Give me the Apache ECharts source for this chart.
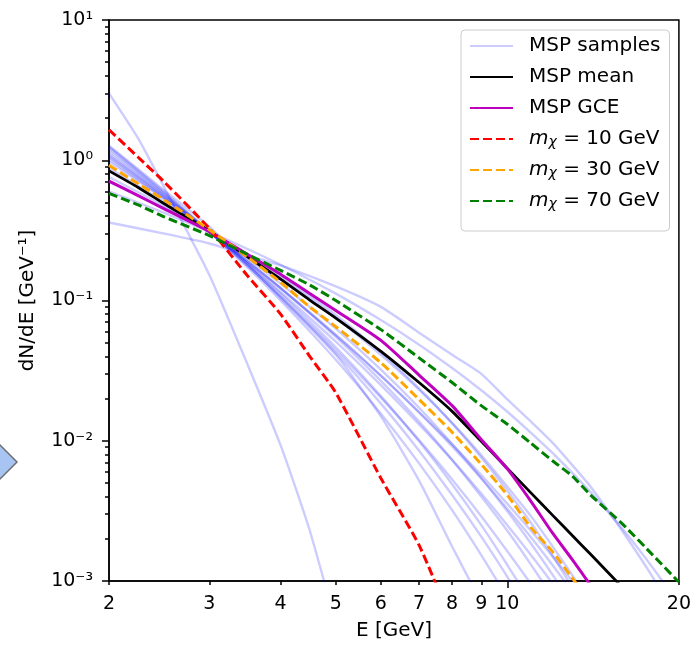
<!DOCTYPE html>
<html>
<head>
<meta charset="utf-8">
<script src="https://cdn.jsdelivr.net/npm/echarts@6/dist/echarts.min.js"></script>
<style>
html, body { margin: 0; padding: 0; background: #fff; }
#main { width: 694px; height: 646px; }
</style>
</head>
<body>
<div id="main"></div>
<script>
// energy grid [GeV]; null = no reading at that energy
var energy = [2, 2.25, 2.5, 3, 3.5, 4, 4.5, 5, 6, 7, 8, 9, 10, 11, 12, 13, 14, 16, 18, 20];

// MSP spectrum samples (dN/dE)
var sample1  = [3.0, 1.43, 0.64, 0.152, 0.035, 0.0093, 0.0023, 0.0005];
var sample2  = [0.36, null, 0.30, 0.255, 0.21, 0.178, null, 0.126, 0.09, 0.059, 0.041, 0.03, 0.0197, 0.0137, 0.0097, 0.0067, 0.0047, 0.0022, 0.00106, 0.0005];
var sample3  = [1.27, null, 0.61, 0.336, 0.182, 0.104, null, 0.041, 0.0149, 0.0052, 0.00176, 0.0007];
var sample4  = [1.17, null, 0.574, 0.309, 0.177, 0.106, null, 0.0422, 0.0184, 0.0085, 0.0041, 0.00207, 0.00107, 0.00057];
var sample5  = [1.08, null, 0.554, 0.309, 0.1825, 0.112, null, 0.0464, 0.0208, 0.0099, 0.0049, 0.0025, 0.0013, 0.0007];
var sample6  = [1.22, null, 0.581, 0.309, 0.177, 0.107, null, 0.0442, 0.0203, 0.0101, 0.0053, 0.0029, 0.00163, 0.00095, 0.00056];
var sample7  = [0.98, null, 0.529, 0.309, 0.191, 0.1225, null, 0.055, 0.0267, 0.0137, 0.0073, 0.0040, 0.00228, 0.00131, 0.00077];
var sample8  = [1.12, null, 0.558, 0.309, 0.184, 0.115, null, 0.0509, 0.0249, 0.0131, 0.0073, 0.0042, 0.0025, 0.00153, 0.00096, 0.00061];
var sample9  = [0.88, null, 0.504, 0.309, 0.199, 0.132, null, 0.063, 0.0321, 0.0172, 0.0095, 0.0054, 0.00314, 0.00185, 0.00111, 0.00067];
var sample10 = [1.02, null, 0.536, 0.309, 0.19, 0.123, null, 0.0571, 0.0291, 0.0159, 0.0091, 0.0054, 0.00327, 0.00205, 0.0013, 0.00084];
var sample11 = [0.76, null, 0.472, 0.309, 0.21, 0.146, null, 0.0754, 0.041, 0.0231, 0.0134, 0.0079, 0.0047, 0.0029, 0.00177, 0.0011, 0.00069];
var sample12 = [1.06, null, 0.543, 0.309, 0.189, 0.122, null, 0.0564, 0.029, 0.016, 0.0094, 0.0057, 0.00355, 0.00228, 0.0015, 0.001, 0.00068];
var sample13 = [0.70, null, 0.457, 0.309, 0.215, 0.152, null, 0.079, 0.0427, 0.0236, 0.0133, 0.0076, 0.0044, 0.0026, 0.00152, 0.0009];
var sample14 = [0.60, null, 0.422, 0.309, 0.233, 0.18, null, 0.112, 0.0725, 0.0484, 0.033, 0.0229, 0.0161, 0.0114, 0.0082, 0.0059, 0.0043, 0.0023, 0.00124, 0.00068];
var sample15 = [1.25, null, 0.593, 0.309, 0.172, 0.1, null, 0.0378, 0.0156, 0.0069, 0.0032, 0.00153, 0.00076];
var samples = [sample1, sample2, sample3, sample4, sample5, sample6, sample7, sample8,
               sample9, sample10, sample11, sample12, sample13, sample14, sample15];

var mspMean = [0.84, 0.64, 0.49, 0.314, 0.205, 0.142, 0.1007, 0.075, 0.0434, 0.026, 0.0162, 0.0099, 0.00635, 0.00425, 0.00295, 0.00211, 0.00155, 0.00088];
var mspGce  = [0.71, 0.56, 0.45, 0.31, 0.213, 0.154, 0.112, 0.085, 0.052, 0.0294, 0.0178, 0.0102, 0.0063, 0.0037, 0.0022, 0.00142, 0.00093];
var dm10    = [1.65, 1.05, 0.70, 0.326, 0.15, 0.08, 0.04, 0.022, 0.0054, 0.0018, 0.0005];
var dm30    = [0.92, 0.68, 0.52, 0.32, 0.204, 0.135, 0.09, 0.065, 0.036, 0.0197, 0.0115, 0.0068, 0.0041, 0.0024, 0.00162, 0.00105, 0.0007];
var dm70    = [0.58, 0.48, 0.395, 0.29, 0.213, 0.164, 0.129, 0.1, 0.062, 0.039, 0.026, 0.0178, 0.0131, 0.0096, 0.0072, 0.0056, 0.0041, 0.0025, 0.00153, 0.00098];

// ticks
var xTickLabels = [2, 3, 4, 5, 6, 7, 8, 9, 10, 20];
var xMajorTicks = [10];
var xMinorTicks = [2, 3, 4, 5, 6, 7, 8, 9, 20];
var yExponents = [-3, -2, -1, 0, 1];
var yTickLabels = ['10\u207B\u00B3', '10\u207B\u00B2', '10\u207B\u00B9', '10\u2070', '10\u00B9'];

var FONT = 'DejaVu Sans';

function lg(v) { return Math.log10(v); }
function toPairs(vals) {
  var out = [];
  for (var i = 0; i < energy.length; i++) {
    if (vals[i] != null) out.push([lg(energy[i]), lg(vals[i])]);
  }
  return out;
}

var yMinor = [];
for (var e = -3; e < 1; e++) {
  for (var k = 2; k <= 9; k++) yMinor.push(e + lg(k));
}

var legendText = {
  'MSP samples': 'MSP samples',
  'MSP mean': 'MSP mean',
  'MSP GCE': 'MSP GCE',
  'mchi10': '{i|m}{s|\u03C7}{t| = 10 GeV}',
  'mchi30': '{i|m}{s|\u03C7}{t| = 30 GeV}',
  'mchi70': '{i|m}{s|\u03C7}{t| = 70 GeV}'
};

var series = [];
samples.forEach(function (s) {
  series.push({
    name: 'MSP samples', type: 'line', data: toPairs(s), symbol: 'none', smooth: 0.2,
    lineStyle: { color: 'rgba(0,0,255,0.2)', width: 2.4 },
    itemStyle: { color: 'rgba(0,0,255,0.2)' }
  });
});
function curve(name, vals, color, width, dashed) {
  return {
    name: name, type: 'line', data: toPairs(vals), symbol: 'none', smooth: 0.2,
    lineStyle: { color: color, width: width, type: dashed ? [9, 4] : 'solid' },
    itemStyle: { color: color }
  };
}
series.push(curve('MSP mean', mspMean, '#000000', 2.8, false));
series.push(curve('MSP GCE', mspGce, '#bf00bf', 3, false));
series.push(curve('mchi10', dm10, '#ff0000', 3, true));
series.push(curve('mchi30', dm30, '#ffa500', 3, true));
series.push(curve('mchi70', dm70, '#008000', 3, true));

var axisLineStyle = { color: '#000', width: 1.5 };

var chart = echarts.init(document.getElementById('main'));
chart.setOption({
  animation: false,
  grid: { left: 109, right: 14, top: 20, bottom: 59, show: true, borderColor: '#000', borderWidth: 1.5 },
  graphic: [{
    type: 'polygon',
    shape: { points: [[17, 462], [-2, 443], [-21, 462], [-2, 481]] },
    style: { fill: '#a8c4f2', stroke: '#6e6e6e', lineWidth: 1.5 }
  }],
  legend: {
    orient: 'vertical', left: 461, top: 30,
    padding: [6, 9, 20, 8],
    backgroundColor: '#fff', borderColor: '#cccccc', borderWidth: 1, borderRadius: 4,
    itemWidth: 43, itemHeight: 14, itemGap: 11,
    itemStyle: { opacity: 0, borderWidth: 0 },
    data: ['MSP samples', 'MSP mean', 'MSP GCE', 'mchi10', 'mchi30', 'mchi70'],
    formatter: function (name) { return '{sp|}' + legendText[name]; },
    textStyle: {
      fontFamily: FONT, fontSize: 20, color: '#000',
      rich: {
        sp: { width: 11 },
        i: { fontFamily: FONT, fontSize: 20, fontStyle: 'italic', lineHeight: 20 },
        s: { fontFamily: FONT, fontSize: 14, fontStyle: 'italic', lineHeight: 6, verticalAlign: 'bottom' },
        t: { fontFamily: FONT, fontSize: 20, lineHeight: 20 }
      }
    }
  },
  xAxis: [{
    type: 'value', min: lg(2), max: lg(20), position: 'bottom',
    axisLine: { show: true, onZero: false, lineStyle: axisLineStyle },
    splitLine: { show: false },
    axisTick: { show: true, customValues: xMajorTicks.map(lg), length: 7, lineStyle: axisLineStyle },
    axisLabel: {
      customValues: xTickLabels.map(lg), margin: 14,
      formatter: function (v) { return String(Math.round(Math.pow(10, v))); },
      fontFamily: FONT, fontSize: 19, color: '#000'
    },
    name: 'E [GeV]', nameLocation: 'middle', nameGap: 40,
    nameTextStyle: { fontFamily: FONT, fontSize: 20, color: '#000' }
  }, {
    type: 'value', min: lg(2), max: lg(20), position: 'bottom',
    axisLine: { show: false, onZero: false }, splitLine: { show: false }, axisLabel: { show: false },
    axisTick: { show: true, customValues: xMinorTicks.map(lg), length: 4, lineStyle: axisLineStyle }
  }],
  yAxis: [{
    type: 'value', min: -3, max: 1, position: 'left',
    axisLine: { show: true, onZero: false, lineStyle: axisLineStyle },
    splitLine: { show: false },
    axisTick: { show: true, customValues: yExponents, length: 7, lineStyle: axisLineStyle },
    axisLabel: {
      customValues: yExponents, margin: 16,
      formatter: function (v) { return yTickLabels[yExponents.indexOf(Math.round(v))]; },
      fontFamily: FONT, fontSize: 19, color: '#000'
    },
    name: 'dN/dE [GeV\u207B\u00B9]', nameLocation: 'middle', nameGap: 71,
    nameTextStyle: { fontFamily: FONT, fontSize: 20, color: '#000' }
  }, {
    type: 'value', min: -3, max: 1, position: 'left',
    axisLine: { show: false, onZero: false }, splitLine: { show: false }, axisLabel: { show: false },
    axisTick: { show: true, customValues: yMinor, length: 4, lineStyle: axisLineStyle }
  }],
  series: series
});
</script>
</body>
</html>
